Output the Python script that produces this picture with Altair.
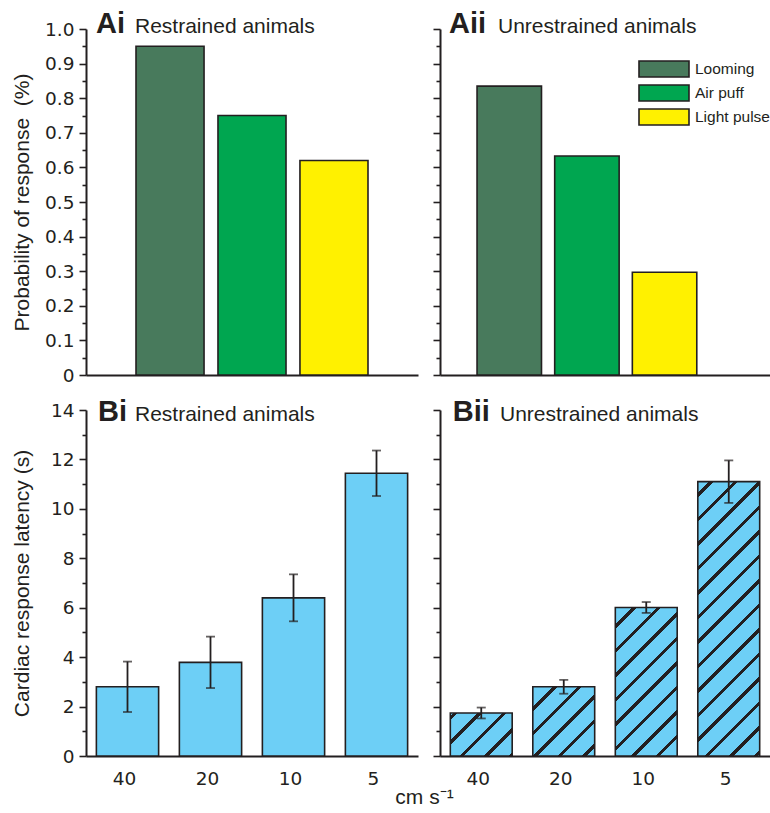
import altair as alt
import pandas as pd

# Probability of responding to each stimulus (panels Ai, Aii)
stimuli = ["Looming", "Air puff", "Light pulse"]
stimulus_colors = ["#487a5c", "#00a650", "#fff100"]
prob_restrained = [0.95, 0.75, 0.62]
prob_unrestrained = [0.835, 0.633, 0.297]

# Cardiac response latency (s) for each looming speed (panels Bi, Bii)
speeds = ["40", "20", "10", "5"]
latency_restrained = [2.80, 3.79, 6.40, 11.44]
sem_restrained = [1.02, 1.04, 0.95, 0.92]
latency_unrestrained = [1.74, 2.80, 6.01, 11.10]
sem_unrestrained = [0.22, 0.28, 0.22, 0.86]

panel_tags = ["Ai", "Aii", "Bi", "Bii"]
panel_titles = ["Restrained animals", "Unrestrained animals",
                "Restrained animals", "Unrestrained animals"]

INK = "#231f20"
BLUE = "#6dcff6"
W_LEFT, W_RIGHT, H = 332, 330, 346
LABEL_FONT = "DejaVu Sans"
TEXT_FONT = "Liberation Sans"

# band layout of the latency panels
B_INNER, B_OUTER = 0.25, 0.125
HATCH_PERIOD = 24.5   # repeat of the diagonal hatch, measured along x + y
HATCH_HALF = 2.2


def prob_axis(show):
    kw = dict(
        values=[round(0.05 * i, 2) for i in range(21)],
        tickSize={"condition": {"test": "round(datum.value * 20) % 2 == 0", "value": 7}, "value": 4},
        labelExpr="round(datum.value * 20) % 2 ? '' : (datum.value == 0 ? '0' : format(datum.value, '.1f'))",
        labelOverlap=False, labelFlush=False,
    )
    if show:
        kw.update(title="Probability of response\u00a0 (%)", titlePadding=12)
    else:
        kw.update(labels=False, title=None)
    return alt.Axis(**kw)


def latency_axis(show):
    kw = dict(
        values=list(range(15)),
        tickSize={"condition": {"test": "datum.value % 2 == 0", "value": 7}, "value": 4},
        labelExpr="datum.value % 2 ? '' : datum.label",
        labelOverlap=False, labelFlush=False,
    )
    if show:
        kw.update(title="Cardiac response latency (s)", titlePadding=18)
    else:
        kw.update(labels=False, title=None)
    return alt.Axis(**kw)


def panel_label(i, tag_dx, title_dx, dy):
    d = pd.DataFrame({"tag": [panel_tags[i]], "title": [panel_titles[i]]})
    tag = alt.Chart(d).mark_text(
        align="left", baseline="alphabetic", font=TEXT_FONT, fontSize=29,
        fontWeight="bold", color=INK,
    ).encode(text="tag:N", x=alt.value(tag_dx), y=alt.value(dy))
    sub = alt.Chart(d).mark_text(
        align="left", baseline="alphabetic", font=TEXT_FONT, fontSize=21, color=INK,
    ).encode(text="title:N", x=alt.value(title_dx), y=alt.value(dy))
    return [tag, sub]


def prob_panel(i, values, show_axis, legend, x_scale, width, tag_dx, title_dx):
    df = pd.DataFrame({"stimulus": stimuli, "p": values})
    bars = alt.Chart(df).mark_bar(stroke=INK, strokeWidth=1.6).encode(
        x=alt.X("stimulus:N", sort=stimuli, scale=x_scale,
                axis=alt.Axis(title=None, labels=False, ticks=False)),
        y=alt.Y("p:Q", scale=alt.Scale(domain=[0, 1], nice=False), axis=prob_axis(show_axis)),
        fill=alt.Fill("stimulus:N", scale=alt.Scale(domain=stimuli, range=stimulus_colors),
                      legend=legend),
    )
    return alt.layer(bars, *panel_label(i, tag_dx, title_dx, 4)).properties(width=width, height=H)


def hatch_fill(index, value, width):
    """Diagonal-hatch gradient for one bar, drawn in the bar's own box."""
    step = width / (len(speeds) - B_INNER + 2 * B_OUTER)
    w = step * (1 - B_INNER)
    h = value * H / 14
    x0 = B_OUTER * step + index * step
    y0 = H - h
    span = w + h
    k = span / (w * w + h * h)
    stops = [{"offset": 0, "color": BLUE}]
    s = (-(x0 + y0)) % HATCH_PERIOD - HATCH_PERIOD
    while s - HATCH_HALF < span:
        a = max(0.0, (s - HATCH_HALF) / span)
        b = min(1.0, (s + HATCH_HALF) / span)
        if b > 0:
            a, b = round(a, 5), round(b, 5)
            stops += [{"offset": a, "color": BLUE}, {"offset": a, "color": INK},
                      {"offset": b, "color": INK}, {"offset": b, "color": BLUE}]
        s += HATCH_PERIOD
    stops.append({"offset": 1, "color": BLUE})
    return {"gradient": "linear", "x1": 0, "y1": 0,
            "x2": round(k * w, 5), "y2": round(k * h, 5), "stops": stops}


def latency_panel(i, means, errs, hatched, x_axis, show_y, width, tag_dx, title_dx):
    df = pd.DataFrame({"speed": speeds, "latency": means, "sem": errs})
    df["lo"] = df["latency"] - df["sem"]
    df["hi"] = df["latency"] + df["sem"]
    y_axis = latency_axis(show_y)
    y_scale = alt.Scale(domain=[0, 14], nice=False)
    base = alt.Chart(df).encode(
        x=alt.X("speed:N", sort=speeds,
                scale=alt.Scale(domain=speeds, paddingInner=B_INNER, paddingOuter=B_OUTER),
                axis=x_axis)
    )
    ybar = alt.Y("latency:Q", scale=y_scale, axis=y_axis)
    if hatched:
        bars = [
            base.transform_filter(alt.datum.speed == s)
            .mark_bar(fill=hatch_fill(k, v, width), stroke=INK, strokeWidth=1.6)
            .encode(y=ybar)
            for k, (s, v) in enumerate(zip(speeds, means))
        ]
    else:
        bars = [base.mark_bar(fill=BLUE, stroke=INK, strokeWidth=1.6).encode(y=ybar)]
    whisker = base.mark_rule(color=INK, strokeWidth=1.8).encode(
        y=alt.Y("lo:Q", scale=y_scale, axis=y_axis), y2="hi:Q")
    cap_lo = base.mark_tick(color=INK, size=9, thickness=1.8).encode(
        y=alt.Y("lo:Q", scale=y_scale, axis=y_axis))
    cap_hi = base.mark_tick(color=INK, size=9, thickness=1.8).encode(
        y=alt.Y("hi:Q", scale=y_scale, axis=y_axis))
    return alt.layer(*bars, whisker, cap_lo, cap_hi,
                     *panel_label(i, tag_dx, title_dx, 10.5)).properties(width=width, height=H)


# wide swatch: a small nominal symbol size with a path that reaches past the unit box
legend = alt.Legend(
    orient="none", legendX=215, legendY=31, title=None,
    symbolType="M-3.125,-1H3.125V1H-3.125Z", symbolSize=256,
    symbolStrokeColor=INK, symbolStrokeWidth=1.6, symbolOpacity=1,
    labelFont=TEXT_FONT, labelFontSize=15.5, labelColor=INK, labelOffset=22,
    rowPadding=0, padding=0, labelLimit=200,
)

top_left = prob_panel(0, prob_restrained, True, None,
                      alt.Scale(paddingInner=0.17, paddingOuter=0.61, align=0.5), W_LEFT, 10, 49)
top_right = prob_panel(1, prob_unrestrained, False, legend,
                       alt.Scale(paddingInner=0.17, paddingOuter=0.71, align=0.336), W_RIGHT, 9, 58)

x_axis_bl = alt.Axis(title="cm s\u207b\u00b9", ticks=False, labelPadding=13, labelAngle=0,
                     labelOffset=-3, titleX=338, titleY=47, titleBaseline="alphabetic",
                     titleAlign="center", titleFontSize=21)
x_axis_br = alt.Axis(title=None, ticks=False, labelPadding=13, labelAngle=0, labelOffset=-3)

bottom_left = latency_panel(2, latency_restrained, sem_restrained, False, x_axis_bl, True,
                            W_LEFT, 12, 49)
bottom_right = latency_panel(3, latency_unrestrained, sem_unrestrained, True, x_axis_br, False,
                             W_RIGHT, 12.7, 60)

chart = (
    alt.concat(top_left, top_right, bottom_left, bottom_right, columns=2,
               spacing={"row": 35, "column": 22}, bounds="flush")
    .resolve_scale(x="independent", y="independent", fill="independent")
    .resolve_legend(fill="independent")
    .properties(padding={"left": 11, "top": 10, "right": 0, "bottom": 0})
    .configure_axis(
        domainColor=INK, domainWidth=2, tickColor=INK, tickWidth=1.6,
        labelColor=INK, titleColor=INK, grid=False,
        labelFont=LABEL_FONT, labelFontSize=18.5, labelPadding=5,
        titleFont=TEXT_FONT, titleFontSize=21, titleFontWeight="normal",
    )
    .configure_view(stroke=None)
)

chart.save("out.html", embed_options={"renderer": "svg", "actions": False})
